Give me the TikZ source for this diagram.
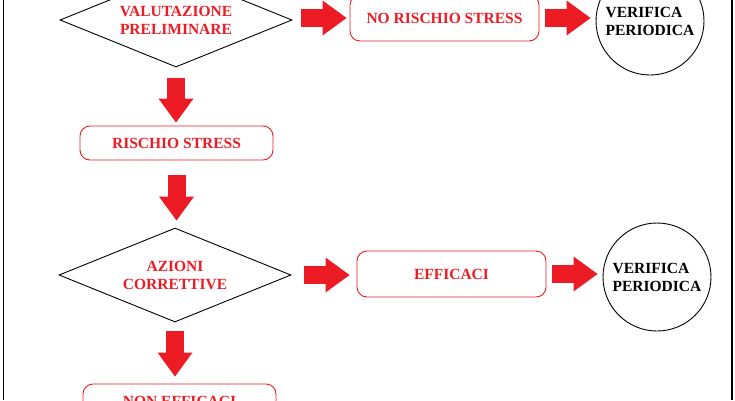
\documentclass[tikz,border=0pt]{standalone}
\usepackage{fontspec}
\setmainfont{Liberation Serif}
\usetikzlibrary{shapes.geometric,arrows.meta}
\definecolor{paintred}{RGB}{237,28,36}

\begin{document}
\begin{tikzpicture}
            [x=1pt,y=-1pt,line width=0.9pt,
             every node/.style={font=\bfseries\fontsize{15.5}{18}\selectfont,inner sep=0pt},
             choice/.style={diamond,draw=black,shape aspect=2.47,minimum width=232pt,minimum height=94pt,text=paintred,align=center},
             outcome/.style={draw=paintred,rounded corners=10pt,text=paintred},
             check/.style={circle,draw=black,minimum size=108pt,align=left},
             fatarrow/.style={draw=paintred,line width=18pt,-{Triangle[width=35pt,length=24pt,line width=0pt]}}]
            \useasboundingbox (0,0) rectangle (735,400);
            \node[choice] (d1) at (176,20) {VALUTAZIONE\\PRELIMINARE};
            \node[outcome,minimum width=189pt,minimum height=46pt] (nors) at (444.5,18) {NO RISCHIO STRESS};
            \node[check] (c1) at (650,21) {VERIFICA\\PERIODICA};
            \node[outcome,minimum width=193pt,minimum height=34pt] (rs) at (176.5,143) {RISCHIO STRESS};
            \node[choice] (d2) at (175,275) {AZIONI\\CORRETTIVE};
            \node[outcome,minimum width=189pt,minimum height=46pt] (eff) at (451.5,274) {EFFICACI};
            \node[check] (c2) at (657,277) {VERIFICA\\PERIODICA};
            \node[outcome,minimum width=193pt,minimum height=34pt] (ne) at (179.5,401) {NON EFFICACI};
            % the frame
            \draw[line width=1.5pt] (3.5,0) -- (3.5,400);
            \draw[line width=1.5pt] (732,0) -- (732,400);
            % fat arrows
            \draw[fatarrow,shorten <=9pt,shorten >=3pt] (d1.east |- nors.west) -- (nors.west);
            \draw[fatarrow,shorten <=6pt,shorten >=5pt] (nors.east) -- (nors.east -| c1.west);
            \draw[fatarrow,shorten <=11pt,shorten >=3pt] (d1.south) -- (d1.south |- rs.north);
            \draw[fatarrow,shorten <=15pt,shorten >=7pt] (rs.south) -- (rs.south |- d2.north);
            \draw[fatarrow,shorten <=13pt,shorten >=7pt] (d2.east) -- (d2.east -| eff.west);
            \draw[fatarrow,shorten <=6pt,shorten >=5pt] (eff.east) -- (eff.east -| c2.west);
            \draw[fatarrow,shorten <=9pt,shorten >=7pt] (d2.south) -- (d2.south |- ne.north);
        \end{tikzpicture}
\end{document}
